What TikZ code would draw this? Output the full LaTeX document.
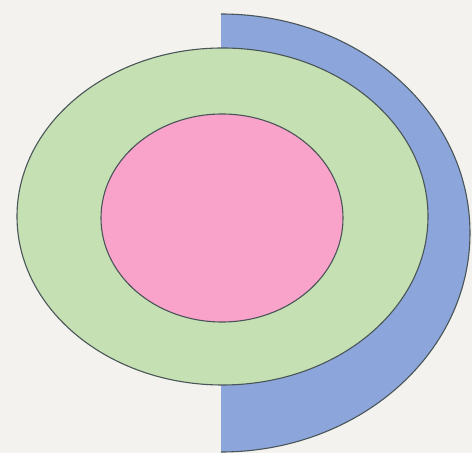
\documentclass[tikz,border=0pt]{standalone}
\definecolor{bgc}{HTML}{F3F2EE}
\definecolor{bluec}{HTML}{8CA6DB}
\definecolor{greenc}{HTML}{C5E0B3}
\definecolor{pinkc}{HTML}{F9A3CB}
\definecolor{linec}{HTML}{4A5558}
\tikzset{outline/.style={draw=linec,line width=1.1pt}}
\begin{document}
\begin{tikzpicture}[x=1pt,y=1pt]
\fill[bgc] (0,0) rectangle (472,453);
\useasboundingbox (0,0) rectangle (472,453);
\coordinate (btop) at (221,439);
\fill[bluec] (btop) arc[start angle=90,end angle=-90,x radius=249,y radius=219] -- cycle;
\draw[outline] (btop) arc[start angle=90,end angle=-90,x radius=249,y radius=219];
\fill[greenc,outline] (222.5,236.5) ellipse[x radius=205.5,y radius=168.5];
\fill[pinkc,outline] (222,235) ellipse[x radius=121,y radius=104];
\end{tikzpicture}
\end{document}
